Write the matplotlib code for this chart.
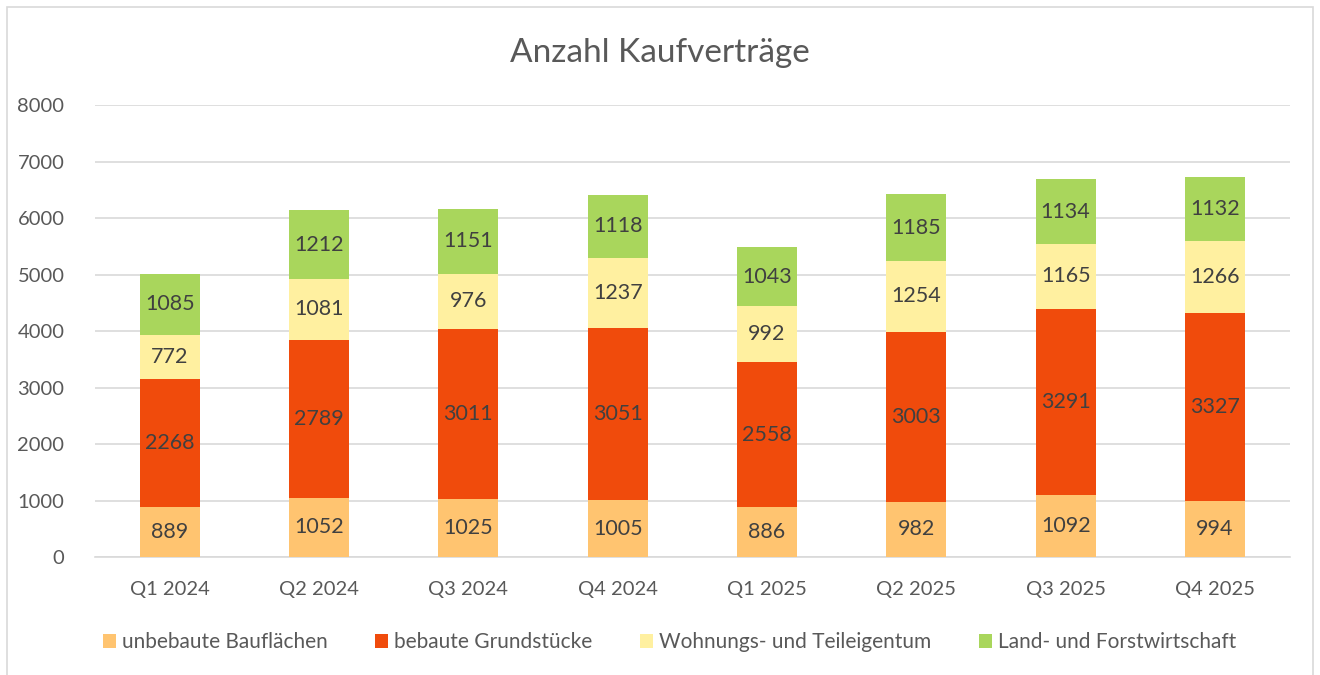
import matplotlib.pyplot as plt
import numpy as np
from matplotlib.patches import Rectangle

plt.rcParams['font.family'] = ['Lato', 'DejaVu Sans']

quarters = ['Q1 2024', 'Q2 2024', 'Q3 2024', 'Q4 2024', 'Q1 2025', 'Q2 2025', 'Q3 2025', 'Q4 2025']
unbebaut = [889, 1052, 1025, 1005, 886, 982, 1092, 994]
bebaut = [2268, 2789, 3011, 3051, 2558, 3003, 3291, 3327]
wohnung = [772, 1081, 976, 1237, 992, 1254, 1165, 1266]
landforst = [1085, 1212, 1151, 1118, 1043, 1185, 1134, 1132]

series = [
    ('unbebaute Bauflächen', unbebaut, '#FFC470'),
    ('bebaute Grundstücke', bebaut, '#F04B0C'),
    ('Wohnungs- und Teileigentum', wohnung, '#FFF0A0'),
    ('Land- und Forstwirtschaft', landforst, '#A9D65C'),
]

fig = plt.figure(figsize=(13.2, 6.75), dpi=100)
ax = fig.add_axes([0.072, 0.1748, 0.905, 0.6696])

x = np.arange(len(quarters))
bottom = np.zeros(len(quarters))
for name, vals, col in series:
    bars = ax.bar(x, vals, width=0.4, bottom=bottom, color=col, label=name, zorder=3)
    ax.bar_label(bars, labels=[str(v) for v in vals], label_type='center',
                 fontsize=15.5, color='#404040')
    bottom += np.array(vals)

ax.set_xlim(-0.5, len(quarters) - 0.5)
ax.set_ylim(0, 8000)
ax.set_yticks(range(0, 8001, 1000))
ax.set_xticks(x)
ax.set_xticklabels(quarters)
ax.tick_params(axis='both', length=0, labelsize=14.5, colors='#595959')
ax.tick_params(axis='y', pad=22)
ax.tick_params(axis='x', pad=17)
ax.grid(axis='y', color='#D9D9D9', linewidth=1.2, zorder=0)
for s in ['top', 'right', 'left']:
    ax.spines[s].set_visible(False)
ax.spines['bottom'].set_color('#D9D9D9')
ax.spines['bottom'].set_linewidth(1.2)

fig.text(0.5, 0.921, 'Anzahl Kaufverträge', ha='center', va='center',
         fontsize=24, color='#595959')

ax.legend(loc='upper center', bbox_to_anchor=(0.481, -0.125), ncol=4, frameon=False,
          fontsize=15, labelcolor='#595959', handlelength=0.6, handleheight=0.7,
          handletextpad=0.3, columnspacing=2.3)

fig.patches.append(Rectangle((7 / 1320, -0.01), 1306 / 1320, 1 - 7 / 675 + 0.01,
                             transform=fig.transFigure, fill=False,
                             edgecolor='#D9D9D9', linewidth=1.2))

fig.savefig('out.png', dpi=100)
